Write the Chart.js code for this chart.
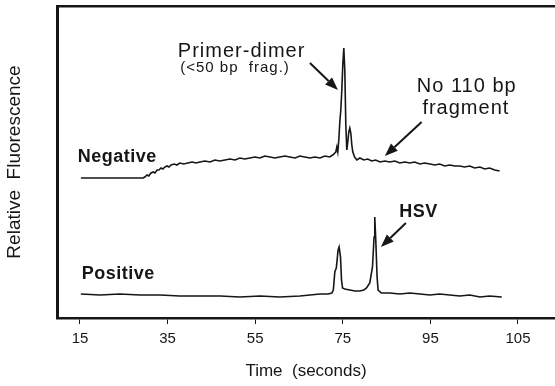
<!DOCTYPE html>
<html>
<head>
<meta charset="utf-8">
<script src="https://cdn.jsdelivr.net/npm/chart.js@4.4.0/dist/chart.umd.min.js"></script>
<style>
  html, body { margin: 0; padding: 0; background: #fff; }
  #wrap { width: 555px; height: 386px; }
</style>
</head>
<body>
<div id="wrap"><canvas id="traceChart"></canvas></div>
<script>
// axis ticks as printed on the figure
var tickValues = [15, 35, 55, 75, 95, 115];
var tickLabels = ['15', '35', '55', '75', '95', '105'];

// negative sample trace (time in s, relative fluorescence)
var negTime = [15.2, 29.4, 29.8, 30.3, 30.7, 31.2, 31.7, 32.1, 32.6, 33.0, 33.5, 33.9, 34.4, 34.9, 35.3, 35.8,
  36.5, 37.1, 37.8, 38.7, 39.6, 40.6, 41.5, 42.4, 43.5, 44.7, 45.8, 46.9, 48.1, 49.2, 50.4, 51.5, 52.6, 53.8,
  54.9, 56.1, 57.2, 58.4, 59.5, 60.6, 61.8, 62.9, 64.1, 65.2, 66.3, 67.5, 68.6, 69.8, 70.9, 72.0, 72.7, 73.4,
  73.64, 73.86, 74.09, 74.32, 74.55, 74.78, 75.0, 75.23, 75.46, 75.69, 75.92, 76.14, 76.37, 76.6, 76.83, 77.06,
  77.29, 77.7, 78.2, 78.9, 79.8, 80.7, 81.6, 82.5, 83.5, 84.6, 85.7, 86.9, 88.0, 89.2, 90.3, 91.4, 92.6, 93.7,
  94.9, 96.0, 97.1, 98.3, 99.4, 100.6, 101.7, 102.8, 104.0, 105.1, 106.3, 107.4, 108.5, 109.7, 110.8];
var negSignal = [140, 140, 141, 143, 142, 145, 146, 145, 148, 148, 150, 149, 151, 152, 151, 153,
  154, 153, 155, 154, 155, 156, 155, 156, 157, 156, 158, 157, 158, 159, 158, 160, 159, 160,
  161, 160, 162, 161, 160, 161, 162, 161, 160, 162, 161, 160, 161, 160, 162, 161, 163, 166,
  171, 166, 178, 196, 208, 228, 253, 270, 248, 193, 168, 176, 186, 190, 185, 173,
  166, 161, 158, 160, 158, 159, 157, 158, 156, 157, 156, 157, 155, 156, 155, 156, 154, 155,
  154, 153, 154, 152, 153, 152, 152, 151, 152, 150, 151, 149, 150, 148, 147];

// positive sample trace
var posTime = [15.2, 19.6, 24.1, 28.7, 33.3, 37.8, 42.4, 47.0, 51.5, 56.1, 60.6, 65.2, 67.5, 69.8, 71.6, 72.5,
  72.84, 73.18, 73.34, 73.52, 73.93, 74.16, 74.48, 74.71, 74.94, 75.46, 76.6, 77.74, 78.88, 79.8, 80.41, 81.16,
  81.78, 82.14, 82.3, 82.53, 82.83, 83.06, 83.83, 85.73, 88.0, 90.3, 92.6, 94.9, 97.1, 99.4, 101.7, 104.0,
  106.3, 108.5, 111.3];
var posSignal = [24, 23, 24, 23, 23, 22, 22, 22, 21, 22, 21, 22, 23, 24, 24, 25,
  28, 46, 48, 50, 68, 71, 61, 38, 30, 29, 28, 27, 27, 28, 30, 35,
  51, 81, 101, 78, 41, 28, 25, 25, 24, 25, 24, 23, 24, 23, 22, 23,
  21, 22, 21];

function toPoints(xs, ys) {
  var pts = [];
  for (var i = 0; i < xs.length; i++) {
    pts.push({x: xs[i], y: ys[i]});
  }
  return pts;
}

var FONT = "'Liberation Sans', Arial, Helvetica, sans-serif";
var INK = '#161616';

// labels and arrows, placed in data units
var labels = [
  {text: 'Primer-dimer', x: 51.9, y: 267, size: 20, bold: false, align: 'center'},
  {text: '(<50 bp  frag.)', x: 50.4, y: 250, size: 15, bold: false, align: 'center'},
  {text: 'No 110 bp', x: 103.3, y: 232, size: 20, bold: false, align: 'center'},
  {text: 'fragment', x: 103.1, y: 210, size: 20, bold: false, align: 'center'},
  {text: 'Negative', x: 14.5, y: 161, size: 18, bold: true, align: 'left'},
  {text: 'Positive', x: 15.4, y: 44, size: 18, bold: true, align: 'left'},
  {text: 'HSV', x: 92.3, y: 106, size: 18, bold: true, align: 'center'}
];
var arrows = [
  {x1: 67.5, y1: 255, x2: 73.9, y2: 228},
  {x1: 93.0, y1: 196, x2: 84.6, y2: 162},
  {x1: 89.4, y1: 95, x2: 83.7, y2: 71}
];

var annotate = {
  id: 'annotate',
  afterDraw: function(chart) {
    var ctx = chart.ctx;
    var xs = chart.scales.x, ys = chart.scales.y;
    ctx.save();
    ctx.fillStyle = INK;
    ctx.strokeStyle = INK;
    ctx.textBaseline = 'middle';
    labels.forEach(function(l) {
      ctx.font = (l.bold ? 'bold ' : '') + l.size + 'px ' + FONT;
      ctx.letterSpacing = l.bold ? '0.5px' : '1px';
      ctx.textAlign = l.align;
      ctx.fillText(l.text, xs.getPixelForValue(l.x), ys.getPixelForValue(l.y));
    });
    arrows.forEach(function(a) {
      var x1 = xs.getPixelForValue(a.x1), y1 = ys.getPixelForValue(a.y1);
      var x2 = xs.getPixelForValue(a.x2), y2 = ys.getPixelForValue(a.y2);
      var ang = Math.atan2(y2 - y1, x2 - x1);
      var len = 13, half = 5;
      var bx = x2 - len * Math.cos(ang), by = y2 - len * Math.sin(ang);
      ctx.lineWidth = 2;
      ctx.beginPath();
      ctx.moveTo(x1, y1);
      ctx.lineTo(bx, by);
      ctx.stroke();
      ctx.beginPath();
      ctx.moveTo(x2, y2);
      ctx.lineTo(bx + half * Math.sin(ang), by - half * Math.cos(ang));
      ctx.lineTo(bx - half * Math.sin(ang), by + half * Math.cos(ang));
      ctx.closePath();
      ctx.fill();
    });
    ctx.restore();
  }
};

var ctx = document.getElementById('traceChart').getContext('2d');
var traceChart = new Chart(ctx, {
  type: 'line',
  data: {
    datasets: [{
      label: 'Negative',
      data: toPoints(negTime, negSignal),
      borderColor: INK,
      borderWidth: 1.6,
      pointRadius: 0,
      tension: 0
    }, {
      label: 'Positive',
      data: toPoints(posTime, posSignal),
      borderColor: INK,
      borderWidth: 1.6,
      pointRadius: 0,
      tension: 0
    }]
  },
  options: {
    responsive: true,
    maintainAspectRatio: false,
    animation: false,
    layout: {padding: {left: 0, right: 0, top: 0, bottom: 0}},
    plugins: {legend: {display: false}, tooltip: {enabled: false}},
    scales: {
      x: {
        type: 'linear',
        position: 'bottom',
        min: 9.75,
        max: 123.45,
        afterBuildTicks: function(scale) {
          scale.ticks = tickValues.map(function(v) { return {value: v}; });
        },
        afterFit: function(scale) { scale.height = 68; },
        ticks: {
          color: INK,
          padding: 6,
          maxRotation: 0,
          font: {family: FONT, size: 15},
          callback: function(value, index) { return tickLabels[index]; }
        },
        grid: {drawOnChartArea: false, drawTicks: true, tickLength: 6, color: INK, lineWidth: 1},
        border: {display: true, color: INK, width: 2.5},
        title: {
          display: true,
          text: 'Time  (seconds)',
          color: INK,
          font: {family: FONT, size: 17},
          padding: {top: 0, bottom: 4}
        }
      },
      top: {
        type: 'linear',
        position: 'top',
        min: 0,
        max: 1,
        afterFit: function(scale) { scale.height = 6; },
        ticks: {display: false},
        grid: {display: false},
        border: {display: true, color: INK, width: 2.5}
      },
      y: {
        type: 'linear',
        position: 'left',
        min: 0,
        max: 312,
        afterFit: function(scale) { scale.width = 57; },
        ticks: {display: false},
        grid: {display: false},
        border: {display: true, color: INK, width: 3},
        title: {
          display: true,
          text: 'Relative  Fluorescence',
          color: INK,
          font: {family: FONT, size: 19},
          padding: {top: 3, bottom: 0}
        }
      }
    }
  },
  plugins: [annotate]
});
</script>
</body>
</html>
